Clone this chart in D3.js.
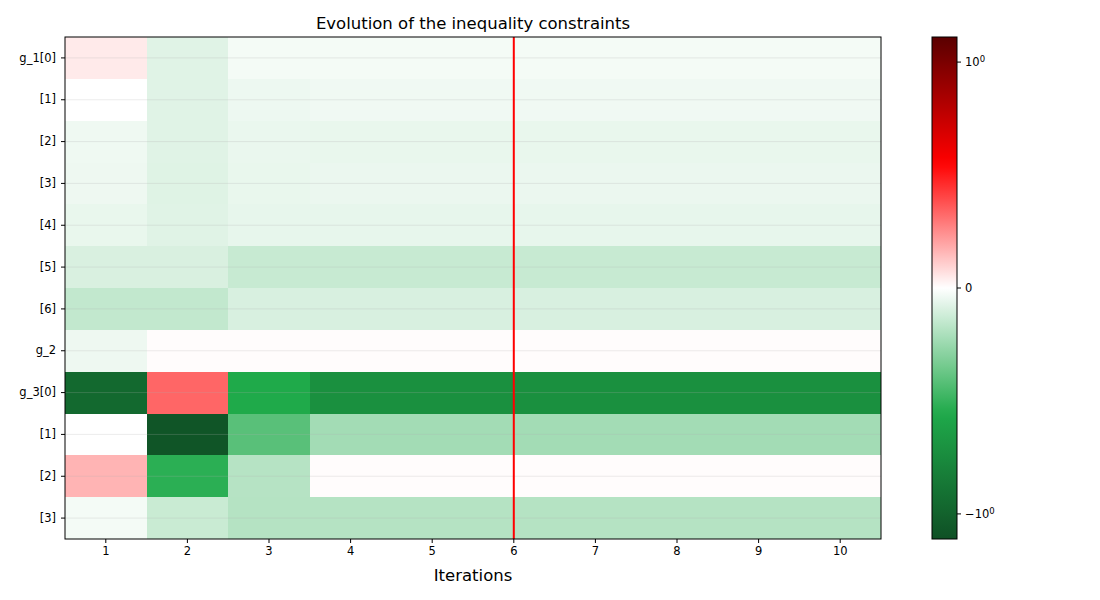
<!DOCTYPE html>
<html>
<head>
<meta charset="utf-8">
<script src="https://cdn.jsdelivr.net/npm/d3@7"></script>
<style>
  body{margin:0;background:#fff;}
  svg{font-family:"DejaVu Sans",sans-serif;}
</style>
</head>
<body>
<div id="chart"></div>
<script>
const rowLabels=["g_1[0]","[1]","[2]","[3]","[4]","[5]","[6]","g_2","g_3[0]","[1]","[2]","[3]"];
const iterations=[1,2,3,4,5,6,7,8,9,10];
const g1Values=[
  [0.032,-0.055,-0.019,-0.019,-0.019,-0.019,-0.019,-0.019,-0.019,-0.019],
  [0.0,-0.055,-0.031,-0.026,-0.026,-0.026,-0.026,-0.026,-0.026,-0.026],
  [-0.028,-0.055,-0.037,-0.038,-0.038,-0.038,-0.038,-0.038,-0.038,-0.038],
  [-0.030,-0.056,-0.038,-0.035,-0.035,-0.035,-0.035,-0.035,-0.035,-0.035],
  [-0.038,-0.055,-0.042,-0.042,-0.042,-0.042,-0.042,-0.042,-0.042,-0.042],
  [-0.068,-0.068,-0.101,-0.101,-0.101,-0.101,-0.101,-0.101,-0.101,-0.101],
  [-0.111,-0.111,-0.069,-0.069,-0.069,-0.069,-0.069,-0.069,-0.069,-0.069]
];
const g2Values=[
  [-0.030,0.0045,0.0045,0.0045,0.0045,0.0045,0.0045,0.0045,0.0045,0.0045]
];
const g3Values=[
  [-0.94,0.26,-0.47,-0.64,-0.64,-0.64,-0.64,-0.64,-0.64,-0.64],
  [0.0,-1.11,-0.33,-0.171,-0.171,-0.171,-0.171,-0.171,-0.171,-0.171],
  [0.12,-0.44,-0.134,0.0045,0.0045,0.0045,0.0045,0.0045,0.0045,0.0045],
  [-0.019,-0.097,-0.136,-0.136,-0.136,-0.136,-0.136,-0.136,-0.136,-0.136]
];
const markedIteration=6;
const vmax=1.16;

const rows=[...g1Values,...g2Values,...g3Values];
const cells=[];
rows.forEach((r,i)=>r.forEach((v,j)=>cells.push({row:i,it:iterations[j],v})));

const W=1100,H=600;
const m={left:65,top:37,right:219,bottom:61};
const w=W-m.left-m.right,h=H-m.top-m.bottom;

const svg=d3.select("#chart").append("svg").attr("width",W).attr("height",H);
const g=svg.append("g").attr("transform",`translate(${m.left},${m.top})`);

const x=d3.scaleBand().domain(iterations).range([0,w]);
const y=d3.scaleBand().domain(d3.range(rowLabels.length)).range([0,h]);

// symlog norm -> [0,1], then a green/white/red ramp
const norm=d3.scaleSymlog().constant(1).domain([-vmax,vmax]).range([0,1]).clamp(true);
const ramp=d3.scaleLinear()
  .domain([0,0.25,0.5,0.75,1])
  .range(["#0f5025","#1faa4a","#ffffff","#ff0000","#5a0000"])
  .interpolate(d3.interpolateRgb);
const color=v=>ramp(norm(v));

g.selectAll(".cell").data(cells).join("rect")
  .attr("x",d=>Math.round(x(d.it)))
  .attr("y",d=>Math.round(y(d.row)))
  .attr("width",d=>Math.round(x(d.it)+x.bandwidth())-Math.round(x(d.it)))
  .attr("height",d=>Math.round(y(d.row)+y.bandwidth())-Math.round(y(d.row)))
  .attr("shape-rendering","crispEdges")
  .attr("fill",d=>color(d.v));

// faint grid at row centres
g.selectAll(".grid").data(d3.range(rowLabels.length)).join("line")
  .attr("x1",0).attr("x2",w)
  .attr("y1",d=>y(d)+y.bandwidth()/2)
  .attr("y2",d=>y(d)+y.bandwidth()/2)
  .attr("stroke","#b0b0b0").attr("stroke-opacity",0.3).attr("stroke-width",0.8);

g.append("line")
  .attr("x1",x(markedIteration)+x.bandwidth()/2).attr("x2",x(markedIteration)+x.bandwidth()/2)
  .attr("y1",0).attr("y2",h)
  .attr("stroke","#ff0000").attr("stroke-width",2);

g.append("rect").attr("width",w).attr("height",h)
  .attr("fill","none").attr("stroke","#000").attr("stroke-width",1);

g.append("g").attr("transform",`translate(0,${h})`)
  .call(d3.axisBottom(x).tickSize(4).tickPadding(4))
  .call(s=>s.select(".domain").remove())
  .call(s=>s.selectAll("text").attr("font-size",11.5).attr("fill","#000").attr("font-family","DejaVu Sans"));

g.append("g")
  .call(d3.axisLeft(y).tickSize(4).tickPadding(5).tickFormat(i=>rowLabels[i]))
  .call(s=>s.select(".domain").remove())
  .call(s=>s.selectAll("text").attr("font-size",11.5).attr("fill","#000").attr("font-family","DejaVu Sans"));

svg.append("text")
  .attr("x",m.left+w/2).attr("y",29)
  .attr("text-anchor","middle").attr("font-size",16.5)
  .text("Evolution of the inequality constraints");

svg.append("text")
  .attr("x",m.left+w/2).attr("y",581)
  .attr("text-anchor","middle").attr("font-size",16.5)
  .text("Iterations");

// colorbar
const cb={x:932,y:m.top,w:25,h:h};
const grad=svg.append("defs").append("linearGradient")
  .attr("id","cbgrad").attr("x1",0).attr("x2",0).attr("y1",1).attr("y2",0);
d3.range(0,1.0001,0.02).forEach(t=>{
  grad.append("stop").attr("offset",t).attr("stop-color",ramp(t));
});
svg.append("rect").attr("x",cb.x).attr("y",cb.y).attr("width",cb.w).attr("height",cb.h)
  .attr("fill","url(#cbgrad)").attr("stroke","#000").attr("stroke-width",1);

const cy=d3.scaleSymlog().constant(1).domain([-vmax,vmax]).range([cb.y+cb.h,cb.y]);
const cbTicks=[{v:1,base:"10",sign:""},{v:0,base:"0",sign:""},{v:-1,base:"10",sign:"\u2212"}];
const ct=svg.append("g").selectAll("g").data(cbTicks).join("g")
  .attr("transform",d=>`translate(${cb.x+cb.w},${cy(d.v)})`);
ct.append("line").attr("x2",4).attr("stroke","#000");
const tt=ct.append("text").attr("x",8).attr("dy","0.35em").attr("font-size",11.5);
tt.append("tspan").text(d=>d.sign+d.base);
tt.filter(d=>d.v!==0).append("tspan").attr("dy","-0.45em").attr("font-size",8.5).text("0");
</script>
</body>
</html>
